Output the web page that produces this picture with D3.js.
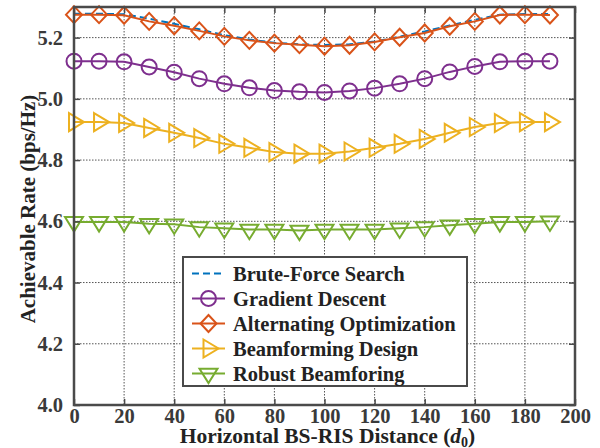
<!DOCTYPE html>
<html>
<head>
<meta charset="utf-8">
<script src="https://cdn.jsdelivr.net/npm/d3@7/dist/d3.min.js"></script>
<style>
  html, body { margin: 0; padding: 0; background: #fff; }
</style>
</head>
<body>
<svg id="chart" width="600" height="448"></svg>
<script>
// Horizontal BS-RIS distance samples
const distances = [0, 10, 20, 30, 40, 50, 60, 70, 80, 90, 100, 110, 120, 130, 140, 150, 160, 170, 180, 190];

// Achievable rate (bps/Hz) for each scheme
const bruteForce = [5.278, 5.278, 5.276, 5.262, 5.245, 5.227, 5.208, 5.194, 5.183, 5.178, 5.176, 5.178, 5.187, 5.203, 5.220, 5.240, 5.258, 5.275, 5.277, 5.277];
const gradientDescent = [5.123, 5.123, 5.121, 5.104, 5.087, 5.066, 5.049, 5.036, 5.027, 5.023, 5.021, 5.026, 5.035, 5.049, 5.066, 5.088, 5.106, 5.121, 5.123, 5.123];
const alternatingOpt = [5.275, 5.275, 5.273, 5.253, 5.239, 5.222, 5.204, 5.191, 5.182, 5.177, 5.172, 5.175, 5.186, 5.201, 5.215, 5.237, 5.253, 5.274, 5.275, 5.274];
const beamforming = [4.924, 4.924, 4.921, 4.905, 4.889, 4.872, 4.853, 4.840, 4.826, 4.821, 4.821, 4.828, 4.840, 4.853, 4.869, 4.889, 4.908, 4.921, 4.924, 4.924];
const robust = [4.598, 4.598, 4.598, 4.592, 4.590, 4.581, 4.577, 4.573, 4.573, 4.570, 4.573, 4.573, 4.573, 4.577, 4.581, 4.587, 4.592, 4.598, 4.598, 4.600];

const xTicks = [0, 20, 40, 60, 80, 100, 120, 140, 160, 180, 200];
const yTicks = [4.0, 4.2, 4.4, 4.6, 4.8, 5.0, 5.2];

const seriesNames = ["Brute-Force Search", "Gradient Descent", "Alternating Optimization", "Beamforming Design", "Robust Beamforing"];
const seriesColors = ["#0072BD", "#7E2F8E", "#D95319", "#EDB120", "#77AC30"];
const seriesMarkers = ["none", "circle", "diamond", "triangleRight", "triangleDown"];
const seriesValues = [bruteForce, gradientDescent, alternatingOpt, beamforming, robust];

const W = 600, H = 448;
const margin = { left: 74, right: 25, top: 7, bottom: 43 };
const axisColor = "#4a4a4a";
const FONT = "'Liberation Serif', 'Times New Roman', serif";

const svg = d3.select("#chart");
const x = d3.scaleLinear().domain([0, 200]).range([margin.left, W - margin.right]);
const y = d3.scaleLinear().domain([4.0, 5.3]).range([H - margin.bottom, margin.top]);

const plotL = x.range()[0], plotR = x.range()[1];
const plotT = y.range()[1], plotB = y.range()[0];

// Serif bold text helper
function serif(sel, size) {
  return sel.attr("font-family", FONT).style("font-family", FONT)
    .attr("font-weight", "bold").style("font-weight", "bold")
    .attr("font-size", size).style("font-size", size + "px");
}

// Dotted grid
const grid = svg.append("g");
grid.selectAll("line.gx").data(xTicks.slice(1, -1)).join("line")
  .attr("x1", d => x(d)).attr("x2", d => x(d))
  .attr("y1", plotT).attr("y2", plotB)
  .attr("stroke", "#555").attr("stroke-width", 1).attr("stroke-dasharray", "1.5,1.5");
grid.selectAll("line.gy").data(yTicks.slice(1)).join("line")
  .attr("x1", plotL).attr("x2", plotR)
  .attr("y1", d => y(d)).attr("y2", d => y(d))
  .attr("stroke", "#555").attr("stroke-width", 1).attr("stroke-dasharray", "1.5,1.5");

// Marker shapes
function markerPath(kind) {
  switch (kind) {
    case "circle": return d3.symbol(d3.symbolCircle, Math.PI * 7.5 * 7.5)();
    case "diamond": return "M0,-8.5L8,0L0,8.5L-8,0Z";
    case "triangleRight": return "M-5,-9L10,0L-5,9Z";
    case "triangleDown": return "M-9,-4.8L9,-4.8L0,9.6Z";
    default: return null;
  }
}

// Series lines and markers
const line = d3.line().x((d, i) => x(distances[i])).y(d => y(d));
seriesValues.forEach((vals, k) => {
  const g = svg.append("g");
  g.append("path").datum(vals)
    .attr("d", line)
    .attr("fill", "none")
    .attr("stroke", seriesColors[k])
    .attr("stroke-width", 2)
    .attr("stroke-dasharray", k === 0 ? "7,4" : null);
  if (seriesMarkers[k] !== "none") {
    g.selectAll("path.m").data(vals).join("path")
      .attr("class", "m")
      .attr("transform", (d, i) => `translate(${x(distances[i])},${y(d)})`)
      .attr("d", markerPath(seriesMarkers[k]))
      .attr("fill", "none")
      .attr("stroke", seriesColors[k])
      .attr("stroke-width", 2);
  }
});

// Axes box with inward ticks
const xAxisB = d3.axisBottom(x).tickValues(xTicks).tickSizeInner(-6).tickSizeOuter(0).tickPadding(3).tickFormat(d3.format("d"));
const xAxisT = d3.axisTop(x).tickValues(xTicks).tickSizeInner(-6).tickSizeOuter(0).tickFormat("");
const yAxisL = d3.axisLeft(y).tickValues(yTicks).tickSizeInner(-6).tickSizeOuter(0).tickPadding(11).tickFormat(d3.format(".1f"));
const yAxisR = d3.axisRight(y).tickValues(yTicks).tickSizeInner(-6).tickSizeOuter(0).tickFormat("");

function styleAxis(g) {
  g.select(".domain").remove();
  g.selectAll(".tick line").attr("stroke", axisColor).attr("stroke-width", 1.5);
  serif(g.selectAll(".tick text"), 20.5).attr("fill", "#3a3a3a");
}
svg.append("g").attr("transform", `translate(0,${plotB})`).call(xAxisB).call(styleAxis);
svg.append("g").attr("transform", `translate(0,${plotT})`).call(xAxisT).call(styleAxis);
svg.append("g").attr("transform", `translate(${plotL},0)`).call(yAxisL).call(styleAxis);
svg.append("g").attr("transform", `translate(${plotR},0)`).call(yAxisR).call(styleAxis);

svg.append("rect")
  .attr("x", plotL).attr("y", plotT)
  .attr("width", plotR - plotL).attr("height", plotB - plotT)
  .attr("fill", "none").attr("stroke", axisColor).attr("stroke-width", 2.5);

// Axis titles
const xt = serif(svg.append("text"), 21.5)
  .attr("x", (plotL + plotR) / 2 + 3).attr("y", 443)
  .attr("text-anchor", "middle")
  .attr("fill", "#222");
xt.append("tspan").text("Horizontal BS-RIS Distance (");
xt.append("tspan").attr("font-style", "italic").style("font-style", "italic").text("d");
xt.append("tspan").attr("dy", 4).attr("font-size", 14).style("font-size", "14px").text("0");
xt.append("tspan").attr("dy", -4).text(")");

serif(svg.append("text"), 21)
  .attr("transform", `translate(35,${(plotT + plotB) / 2 + 3}) rotate(-90)`)
  .attr("text-anchor", "middle")
  .attr("fill", "#222")
  .text("Achievable Rate (bps/Hz)");

// Legend
const legX = 183, legY = 257, legW = 284, legH = 129;
const legend = svg.append("g");
legend.append("rect")
  .attr("x", legX).attr("y", legY).attr("width", legW).attr("height", legH)
  .attr("fill", "#fff").attr("stroke", axisColor).attr("stroke-width", 2);
seriesNames.forEach((name, k) => {
  const cy = legY + 16.5 + k * 25;
  legend.append("line")
    .attr("x1", legX + 9).attr("x2", legX + 42)
    .attr("y1", cy).attr("y2", cy)
    .attr("stroke", seriesColors[k]).attr("stroke-width", 2)
    .attr("stroke-dasharray", k === 0 ? "7,4" : null);
  if (seriesMarkers[k] !== "none") {
    legend.append("path")
      .attr("transform", `translate(${legX + 25.5},${cy})`)
      .attr("d", markerPath(seriesMarkers[k]))
      .attr("fill", "none").attr("stroke", seriesColors[k]).attr("stroke-width", 2);
  }
  serif(legend.append("text"), 20.5)
    .attr("x", legX + 50).attr("y", cy + 7)
    .attr("fill", "#222")
    .text(name);
});
</script>
</body>
</html>
